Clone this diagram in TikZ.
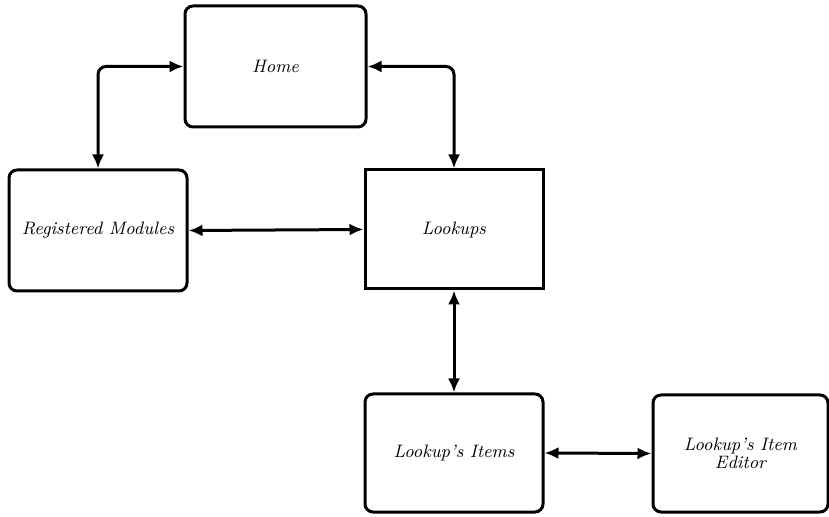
\documentclass[tikz,border=0pt]{standalone}
\usepackage{tikz}
\usetikzlibrary{arrows.meta}

\begin{document}
\begin{tikzpicture}[x=0.5pt,y=-0.5pt]
\useasboundingbox (0,0) rectangle (829,517);
\begin{scope}[every node/.style={draw,line width=1.5pt,rounded corners=4pt,align=center,font=\small\itshape,inner sep=2pt}]

\node[minimum width=90.5pt,minimum height=60.5pt] (home) at (275.5,66.5) {Home};
\node[minimum width=89pt,minimum height=60.5pt] (regmod) at (98,230.5) {Registered Modules};
\node[minimum width=89pt,minimum height=59.5pt,sharp corners] (lookups) at (454,229.5) {Lookups};
\node[minimum width=89pt,minimum height=59pt] (items) at (454,453) {Lookup's Items};
\node[minimum width=87.5pt,minimum height=58.5pt] (editor) at (740.5,453.5) {Lookup's Item\\[-2pt]Editor};

\draw[line width=1.5pt, rounded corners=4pt, {Latex[length=7pt,width=6pt]}-{Latex[length=7pt,width=6pt]}] (home.west) -| (regmod.north);
\draw[line width=1.5pt, rounded corners=4pt, {Latex[length=7pt,width=6pt]}-{Latex[length=7pt,width=6pt]}] (home.east) -| (lookups.north);
\draw[line width=1.5pt, {Latex[length=7pt,width=6pt]}-{Latex[length=7pt,width=6pt]}] (regmod.east) -- (lookups.west);
\draw[line width=1.5pt, {Latex[length=7pt,width=6pt]}-{Latex[length=7pt,width=6pt]}] (lookups.south) -- (items.north);
\draw[line width=1.5pt, {Latex[length=7pt,width=6pt]}-{Latex[length=7pt,width=6pt]}] (items.east) -- (editor.west);

\end{scope}
\end{tikzpicture}
\end{document}
